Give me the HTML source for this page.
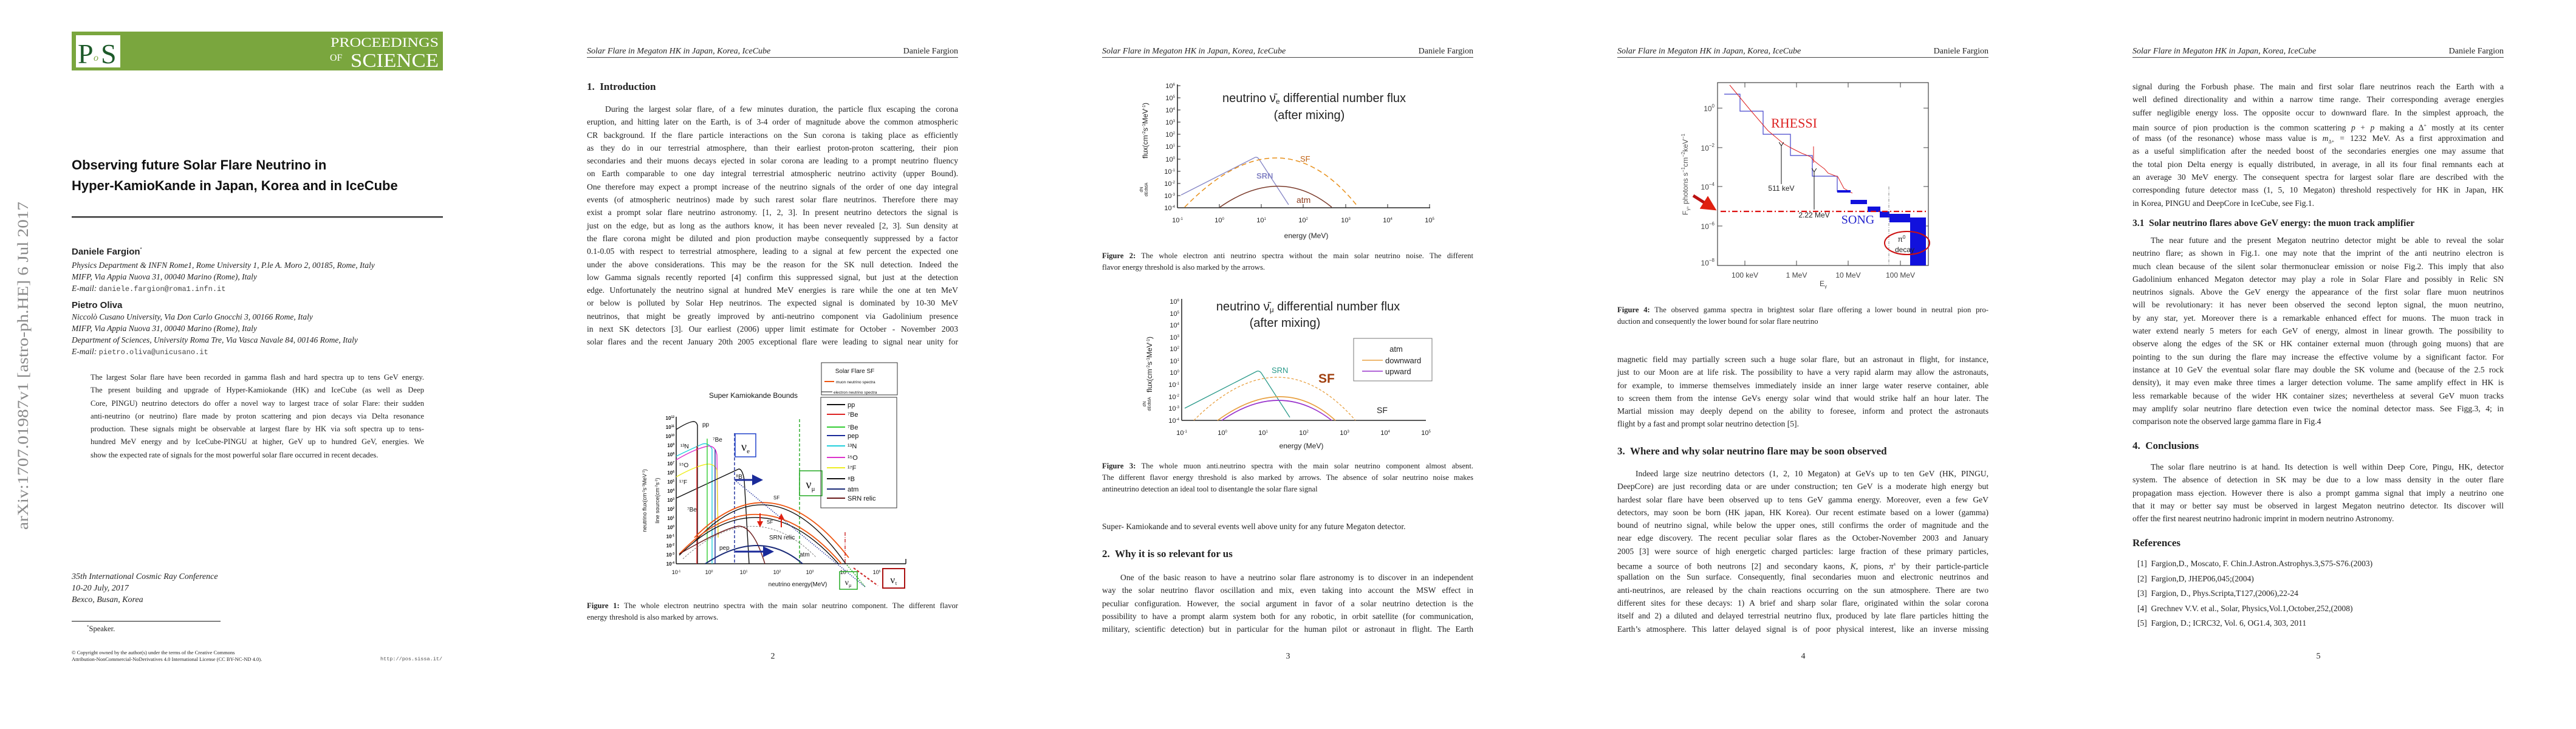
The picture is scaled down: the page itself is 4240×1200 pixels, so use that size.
<!DOCTYPE html>
<html><head><meta charset="utf-8">
<style>
html,body{margin:0;padding:0;background:#fff;}
body{width:4240px;height:1200px;position:relative;overflow:hidden;font-family:"Liberation Serif",serif;color:#222;}
.a{position:absolute;white-space:nowrap;}
.blk{position:absolute;width:611px;font-size:13.6px;}
.ln{height:21.3px;line-height:21.3px;white-space:nowrap;text-align:justify;text-align-last:justify;}
.ln.l{text-align-last:left;}
.ln.i{text-indent:30px;}
.cap{position:absolute;width:611px;font-size:12.6px;}
.cap .ln{height:19px;line-height:19px;}
.hdr{position:absolute;top:76px;width:611px;height:18px;line-height:18px;font-size:14px;border-bottom:1.6px solid #444;}
.hdr i{float:left}.hdr span{float:right}
.h{position:absolute;font-weight:bold;font-size:17px;height:22px;line-height:22px;white-space:nowrap;}
.pn{position:absolute;top:1073px;width:20px;text-align:center;font-size:14px;}
</style></head><body>

<svg class="a" style="left:0;top:0" width="4240" height="1200" xmlns="http://www.w3.org/2000/svg" font-family="Liberation Sans, sans-serif">
<defs>
<marker id="ab" markerWidth="6" markerHeight="6" refX="4" refY="3" orient="auto"><path d="M0,0L6,3L0,6z" fill="#1a2a99"/></marker>
<marker id="ar" markerWidth="5" markerHeight="5" refX="3" refY="2.5" orient="auto"><path d="M0,0L5,2.5L0,5z" fill="#e02010"/></marker>
<marker id="ak" markerWidth="8" markerHeight="8" refX="1" refY="4" orient="auto"><path d="M7,0L1,4L7,8" fill="none" stroke="#111"/></marker>
</defs>
<!-- PAGE 1 -->
<rect x="118" y="52" width="611" height="64" fill="#7aa63e"/>
<rect x="125" y="58" width="73" height="53" fill="#fff"/>
<text x="128" y="104" font-family="Liberation Serif, serif" font-size="46" fill="#1d5a2a">P</text>
<text x="154" y="100" font-family="Liberation Serif, serif" font-size="16" fill="#7aa63e" font-style="italic">o</text>
<text x="166" y="104" font-family="Liberation Serif, serif" font-size="46" fill="#1d5a2a">S</text>
<text x="722" y="77" text-anchor="end" font-family="Liberation Serif, serif" font-size="22" fill="#fff" textLength="178" lengthAdjust="spacingAndGlyphs">PROCEEDINGS</text>
<text x="543" y="100" font-family="Liberation Serif, serif" font-size="16" fill="#fff">OF</text>
<text x="722" y="110" text-anchor="end" font-family="Liberation Serif, serif" font-size="32" fill="#fff" textLength="145" lengthAdjust="spacingAndGlyphs">SCIENCE</text>
<rect x="118" y="356" width="611" height="2.4" fill="#333"/>
<text transform="translate(46,872) rotate(-90)" font-family="Liberation Serif, serif" font-size="25" fill="#8a8a8a" textLength="540" lengthAdjust="spacingAndGlyphs">arXiv:1707.01987v1  [astro-ph.HE]  6 Jul 2017</text>
<rect x="118" y="1022" width="245" height="1.2" fill="#333"/>

<!-- FIGURE 1 (page 2) -->
<g font-size="9" fill="#111">
<text x="1240" y="655" text-anchor="middle" font-size="12">Super Kamiokande Bounds</text>
<line x1="1113" y1="686" x2="1113" y2="928" stroke="#111" stroke-width="1.5"/>
<line x1="1113" y1="928" x2="1491" y2="928" stroke="#111" stroke-width="1.5"/>
<g text-anchor="end" font-size="8" font-weight="bold">
<text x="1110" y="691">10<tspan dy="-3" font-size="5">12</tspan></text>
<text x="1110" y="706">10<tspan dy="-3" font-size="5">11</tspan></text>
<text x="1110" y="721">10<tspan dy="-3" font-size="5">10</tspan></text>
<text x="1110" y="736">10<tspan dy="-3" font-size="5">9</tspan></text>
<text x="1110" y="751">10<tspan dy="-3" font-size="5">8</tspan></text>
<text x="1110" y="766">10<tspan dy="-3" font-size="5">7</tspan></text>
<text x="1110" y="781">10<tspan dy="-3" font-size="5">6</tspan></text>
<text x="1110" y="796">10<tspan dy="-3" font-size="5">5</tspan></text>
<text x="1110" y="811">10<tspan dy="-3" font-size="5">4</tspan></text>
<text x="1110" y="826">10<tspan dy="-3" font-size="5">3</tspan></text>
<text x="1110" y="841">10<tspan dy="-3" font-size="5">2</tspan></text>
<text x="1110" y="856">10<tspan dy="-3" font-size="5">1</tspan></text>
<text x="1110" y="871">10<tspan dy="-3" font-size="5">0</tspan></text>
<text x="1110" y="886">10<tspan dy="-3" font-size="5">-1</tspan></text>
<text x="1110" y="901">10<tspan dy="-3" font-size="5">-2</tspan></text>
<text x="1110" y="916">10<tspan dy="-3" font-size="5">-3</tspan></text>
<text x="1110" y="931">10<tspan dy="-3" font-size="5">-4</tspan></text>
</g>
<g text-anchor="middle" font-size="9">
<text x="1113" y="945">10<tspan dy="-3" font-size="5">-1</tspan></text>
<text x="1167" y="945">10<tspan dy="-3" font-size="5">0</tspan></text>
<text x="1224" y="945">10<tspan dy="-3" font-size="5">1</tspan></text>
<text x="1279" y="945">10<tspan dy="-3" font-size="5">2</tspan></text>
<text x="1333" y="945">10<tspan dy="-3" font-size="5">3</tspan></text>
<text x="1389" y="945">10<tspan dy="-3" font-size="5">4</tspan></text>
<text x="1443" y="945">10<tspan dy="-3" font-size="5">5</tspan></text>
</g>
<text x="1313" y="965" text-anchor="middle" font-size="10">neutrino energy(MeV)</text>
<text transform="translate(1064,824) rotate(-90)" text-anchor="middle" font-size="9">neutrino flux(cm<tspan dy="-3" font-size="5">-2</tspan><tspan dy="3">s</tspan><tspan dy="-3" font-size="5">-1</tspan><tspan dy="3">MeV</tspan><tspan dy="-3" font-size="5">-1</tspan><tspan dy="3">)</tspan></text>
<text transform="translate(1085,824) rotate(-90)" text-anchor="middle" font-size="9">line source(cm<tspan dy="-3" font-size="5">-2</tspan><tspan dy="3">s</tspan><tspan dy="-3" font-size="5">-1</tspan><tspan dy="3">)</tspan></text>
<g fill="none" stroke-width="1.4">
<path d="M1113,707 Q1130,696 1140,694 Q1146,693 1148,700 L1148,928" stroke="#111"/>
<path d="M1113,751 Q1140,738 1156,731 Q1166,728 1172,739 L1172,928" stroke="#22d0dd"/>
<path d="M1113,757 Q1145,738 1167,734 Q1178,735 1180,749 L1182,884" stroke="#dd33cc"/>
<path d="M1113,785 Q1145,767 1164,764 Q1176,763 1180,774 L1182,885" stroke="#eeee22"/>
<path d="M1113,820 L1216,772 Q1222,772 1225,790 L1233,928" stroke="#111"/>
<line x1="1147" y1="734" x2="1147" y2="928" stroke="#dd2222"/>
<line x1="1164" y1="722" x2="1164" y2="928" stroke="#33cc33"/>
<line x1="1177" y1="740" x2="1177" y2="928" stroke="#1a2a99"/>
<line x1="1209" y1="713" x2="1209" y2="928" stroke="#1a2a99" stroke-dasharray="5,3"/>
<line x1="1316" y1="690" x2="1316" y2="928" stroke="#22aa22" stroke-dasharray="5,3"/>
<path d="M1143,885 Q1270,755 1397,918" stroke="#ee5511" stroke-width="1.8"/>
<path d="M1143,892 Q1270,754 1392,928" stroke="#111"/>
<path d="M1118,912 Q1251,774 1385,928" stroke="#ee5511" stroke-width="1.8"/>
<path d="M1118,914 Q1251,783 1380,928" stroke="#111"/>
<path d="M1209,790 L1424,966" stroke="#1a2a99" stroke-dasharray="1.5,2"/>
<path d="M1118,912 Q1190,870 1216,866 Q1240,866 1259,928" stroke="#6a1a1a"/>
<path d="M1124,920 Q1240,814 1343,917" stroke="#666" stroke-width="0.8" stroke-dasharray="3,2"/>
<path d="M1161,928 Q1251,868 1321,928" stroke="#1a2a77" stroke-width="2"/>
<line x1="1391" y1="876" x2="1391" y2="928" stroke="#cc2222" stroke-dasharray="6,2,1,2"/>
<line x1="1394" y1="930" x2="1424" y2="966" stroke="#22aa22" stroke-dasharray="2,2"/>
<line x1="1405" y1="935" x2="1445" y2="964" stroke="#cc2222" stroke-width="2" stroke-dasharray="4,3"/>
<line x1="1210" y1="790" x2="1250" y2="790" stroke="#1a2a99" stroke-width="3" marker-end="url(#ab)"/>
<line x1="1210" y1="908" x2="1268" y2="908" stroke="#1a2a99" stroke-width="3" marker-end="url(#ab)"/>
<line x1="1251" y1="845" x2="1251" y2="864" stroke="#e02010" stroke-width="2" marker-end="url(#ar)"/>
<line x1="1286" y1="868" x2="1286" y2="849" stroke="#e02010" stroke-width="2" marker-end="url(#ar)"/>
<rect x="1210" y="714" width="34" height="38" stroke="#2244cc" stroke-width="1.5"/>
<rect x="1316" y="775" width="37" height="41" stroke="#22aa22" stroke-width="1.5"/>
<rect x="1382" y="941" width="29" height="29" stroke="#22aa22" stroke-width="1.5"/>
<rect x="1453" y="936" width="36" height="32" stroke="#aa1111" stroke-width="2"/>
<line x1="1491" y1="928" x2="1491" y2="920" stroke="#111"/>
</g>
<g font-family="Liberation Serif, serif">
<text x="1227" y="742" text-anchor="middle" font-size="20">ν<tspan font-size="11" dy="4">e</tspan></text>
<text x="1334" y="804" text-anchor="middle" font-size="20">ν<tspan font-size="11" dy="4">μ</tspan></text>
<text x="1396" y="963" text-anchor="middle" font-size="14">ν<tspan font-size="8" dy="3">μ</tspan></text>
<text x="1471" y="960" text-anchor="middle" font-size="17">ν<tspan font-size="9" dy="3">τ</tspan></text>
</g>
<g font-size="10">
<text x="1156" y="702">pp</text><text x="1173" y="727">⁷Be</text><text x="1120" y="738">¹³N</text>
<text x="1118" y="769">¹⁵O</text><text x="1118" y="797">¹⁷F</text><text x="1131" y="842">⁷Be</text>
<text x="1211" y="788">⁸B</text><text x="1273" y="822" font-size="8">SF</text><text x="1262" y="862" font-size="8">SF</text>
<text x="1266" y="888">SRN relic</text><text x="1184" y="905">pep</text><text x="1316" y="916">atm</text>
</g>
<rect x="1352" y="597" width="125" height="53" fill="none" stroke="#333"/>
<text x="1407" y="614" text-anchor="middle" font-size="10">Solar Flare  SF</text>
<line x1="1357" y1="628" x2="1373" y2="628" stroke="#ee5511" stroke-width="2"/>
<text x="1376" y="631" font-size="6.5">muon neutrino spectra</text>
<line x1="1352" y1="645" x2="1370" y2="645" stroke="#111"/>
<text x="1372" y="648" font-size="6.5">electron neutrino spectra</text>
<rect x="1351" y="654" width="125" height="182" fill="none" stroke="#333"/>
<g stroke-width="2">
<line x1="1361" y1="666" x2="1391" y2="666" stroke="#111"/>
<line x1="1361" y1="682" x2="1391" y2="682" stroke="#dd2222"/>
<line x1="1361" y1="703" x2="1391" y2="703" stroke="#33cc33"/>
<line x1="1361" y1="717" x2="1391" y2="717" stroke="#1a2a99"/>
<line x1="1361" y1="734" x2="1391" y2="734" stroke="#22d0dd"/>
<line x1="1361" y1="753" x2="1391" y2="753" stroke="#dd33cc"/>
<line x1="1361" y1="770" x2="1391" y2="770" stroke="#eeee22"/>
<line x1="1361" y1="788" x2="1391" y2="788" stroke="#111"/>
<line x1="1361" y1="805" x2="1391" y2="805" stroke="#1a2a77"/>
<line x1="1361" y1="820" x2="1391" y2="820" stroke="#6a1a1a"/>
</g>
<g font-size="11">
<text x="1395" y="670">pp</text><text x="1395" y="686">⁷Be</text><text x="1395" y="707">⁷Be</text>
<text x="1395" y="721">pep</text><text x="1395" y="738">¹³N</text><text x="1395" y="757">¹⁵O</text>
<text x="1395" y="774">¹⁷F</text><text x="1395" y="792">⁸B</text><text x="1395" y="809">atm</text>
<text x="1395" y="824">SRN relic</text>
</g>
</g>

<!-- FIGURE 2 (page 3) -->
<g font-size="10" fill="#222">
<line x1="1938" y1="139" x2="1938" y2="342" stroke="#222" stroke-width="1.5"/>
<line x1="1938" y1="342" x2="2354" y2="342" stroke="#222" stroke-width="1.5"/>
<g stroke="#222">
<line x1="1938" y1="141" x2="1943" y2="141"/><line x1="1938" y1="161" x2="1943" y2="161"/><line x1="1938" y1="181" x2="1943" y2="181"/><line x1="1938" y1="201" x2="1943" y2="201"/><line x1="1938" y1="221" x2="1943" y2="221"/><line x1="1938" y1="241" x2="1943" y2="241"/><line x1="1938" y1="262" x2="1943" y2="262"/><line x1="1938" y1="282" x2="1943" y2="282"/><line x1="1938" y1="302" x2="1943" y2="302"/><line x1="1938" y1="322" x2="1943" y2="322"/>
<line x1="2007" y1="342" x2="2007" y2="336"/><line x1="2076" y1="342" x2="2076" y2="336"/><line x1="2145" y1="342" x2="2145" y2="336"/><line x1="2215" y1="342" x2="2215" y2="336"/><line x1="2284" y1="342" x2="2284" y2="336"/><line x1="2353" y1="342" x2="2353" y2="336"/>
</g>
<g text-anchor="end" font-size="11">
<text x="1934" y="145">10<tspan dy="-4" font-size="6">6</tspan></text>
<text x="1934" y="165">10<tspan dy="-4" font-size="6">5</tspan></text>
<text x="1934" y="185">10<tspan dy="-4" font-size="6">4</tspan></text>
<text x="1934" y="205">10<tspan dy="-4" font-size="6">3</tspan></text>
<text x="1934" y="225">10<tspan dy="-4" font-size="6">2</tspan></text>
<text x="1934" y="245">10<tspan dy="-4" font-size="6">1</tspan></text>
<text x="1934" y="266">10<tspan dy="-4" font-size="6">0</tspan></text>
<text x="1934" y="286">10<tspan dy="-4" font-size="6">-1</tspan></text>
<text x="1934" y="306">10<tspan dy="-4" font-size="6">-2</tspan></text>
<text x="1934" y="326">10<tspan dy="-4" font-size="6">-3</tspan></text>
<text x="1934" y="346">10<tspan dy="-4" font-size="6">-4</tspan></text>
</g>
<g text-anchor="middle" font-size="11">
<text x="1938" y="366">10<tspan dy="-4" font-size="6">-1</tspan></text><text x="2007" y="366">10<tspan dy="-4" font-size="6">0</tspan></text>
<text x="2076" y="366">10<tspan dy="-4" font-size="6">1</tspan></text><text x="2145" y="366">10<tspan dy="-4" font-size="6">2</tspan></text>
<text x="2215" y="366">10<tspan dy="-4" font-size="6">3</tspan></text><text x="2284" y="366">10<tspan dy="-4" font-size="6">4</tspan></text>
<text x="2353" y="366">10<tspan dy="-4" font-size="6">5</tspan></text>
</g>
<text x="2150" y="392" text-anchor="middle" font-size="12">energy (MeV)</text>
<text x="2163" y="168" text-anchor="middle" font-size="20">neutrino ν̄<tspan font-size="12" dy="3">e</tspan><tspan dy="-3"> differential number flux</tspan></text>
<text x="2155" y="196" text-anchor="middle" font-size="20">(after mixing)</text>
<text transform="translate(1889,215) rotate(-90)" text-anchor="middle" font-size="12">flux(cm<tspan dy="-4" font-size="7">-2</tspan><tspan dy="4">s</tspan><tspan dy="-4" font-size="7">-1</tspan><tspan dy="4">MeV</tspan><tspan dy="-4" font-size="7">-1</tspan><tspan dy="4">)</tspan></text>
<text transform="translate(1881,312) rotate(-90)" text-anchor="middle" font-size="7">dN</text>
<text transform="translate(1889,312) rotate(-90)" text-anchor="middle" font-size="7">dEdtdA</text>
<path d="M1944,321 L2066,259 Q2070,258 2073,263 L2121,337" fill="none" stroke="#8585c5" stroke-width="1.3"/>
<path d="M1950,341 Q2107,180 2234,339" fill="none" stroke="#e8901a" stroke-width="1.5" stroke-dasharray="8,5"/>
<path d="M2008,341 Q2107,272 2192,341" fill="none" stroke="#7a3a2a" stroke-width="1.5"/>
<text x="2140" y="266" font-size="13" fill="#c06010">SF</text>
<text x="2068" y="294" font-size="13" fill="#8585c5" font-weight="bold">SRN</text>
<text x="2134" y="334" font-size="14" fill="#8a3a1a">atm</text>
</g>

<!-- FIGURE 3 (page 3) -->
<g font-size="10" fill="#222">
<line x1="1945" y1="492" x2="1945" y2="692" stroke="#222" stroke-width="1.5"/>
<line x1="1945" y1="692" x2="2347" y2="692" stroke="#222" stroke-width="1.5"/>
<g text-anchor="end" font-size="11">
<text x="1941" y="500">10<tspan dy="-4" font-size="6">6</tspan></text>
<text x="1941" y="520">10<tspan dy="-4" font-size="6">5</tspan></text>
<text x="1941" y="539">10<tspan dy="-4" font-size="6">4</tspan></text>
<text x="1941" y="559">10<tspan dy="-4" font-size="6">3</tspan></text>
<text x="1941" y="578">10<tspan dy="-4" font-size="6">2</tspan></text>
<text x="1941" y="598">10<tspan dy="-4" font-size="6">1</tspan></text>
<text x="1941" y="617">10<tspan dy="-4" font-size="6">0</tspan></text>
<text x="1941" y="637">10<tspan dy="-4" font-size="6">-1</tspan></text>
<text x="1941" y="657">10<tspan dy="-4" font-size="6">-2</tspan></text>
<text x="1941" y="676">10<tspan dy="-4" font-size="6">-3</tspan></text>
<text x="1941" y="696">10<tspan dy="-4" font-size="6">-4</tspan></text>
</g>
<g text-anchor="middle" font-size="11">
<text x="1945" y="716">10<tspan dy="-4" font-size="6">-1</tspan></text><text x="2012" y="716">10<tspan dy="-4" font-size="6">0</tspan></text>
<text x="2079" y="716">10<tspan dy="-4" font-size="6">1</tspan></text><text x="2146" y="716">10<tspan dy="-4" font-size="6">2</tspan></text>
<text x="2213" y="716">10<tspan dy="-4" font-size="6">3</tspan></text><text x="2280" y="716">10<tspan dy="-4" font-size="6">4</tspan></text>
<text x="2347" y="716">10<tspan dy="-4" font-size="6">5</tspan></text>
</g>
<text x="2142" y="738" text-anchor="middle" font-size="12">energy (MeV)</text>
<text x="2153" y="511" text-anchor="middle" font-size="20">neutrino ν̄<tspan font-size="12" dy="3">μ</tspan><tspan dy="-3"> differential number flux</tspan></text>
<text x="2115" y="538" text-anchor="middle" font-size="20">(after mixing)</text>
<text transform="translate(1896,600) rotate(-90)" text-anchor="middle" font-size="12">flux(cm<tspan dy="-4" font-size="7">-2</tspan><tspan dy="4">s</tspan><tspan dy="-4" font-size="7">-1</tspan><tspan dy="4">MeV</tspan><tspan dy="-4" font-size="7">-1</tspan><tspan dy="4">)</tspan></text>
<text transform="translate(1886,665) rotate(-90)" text-anchor="middle" font-size="7">dN</text>
<text transform="translate(1894,665) rotate(-90)" text-anchor="middle" font-size="7">dEdtdA</text>
<path d="M1950,672 L2069,611 Q2073,610 2076,614 L2123,687" fill="none" stroke="#2a9a8a" stroke-width="1.3"/>
<path d="M1965,692 Q2107,550 2231,692" fill="none" stroke="#e8a040" stroke-width="1.3" stroke-dasharray="4,3"/>
<path d="M2004,692 Q2112,614 2198,692" fill="none" stroke="#e8a040" stroke-width="1.6"/>
<path d="M2011,692 Q2107,626 2192,692" fill="none" stroke="#9933cc" stroke-width="1.6"/>
<text x="2093" y="614" font-size="13" fill="#2a9a8a">SRN</text>
<text x="2170" y="630" font-size="21" fill="#a04010" font-weight="bold">SF</text>
<text x="2266" y="680" font-size="14">SF</text>
<rect x="2228" y="557" width="129" height="70" fill="none" stroke="#777"/>
<text x="2298" y="579" text-anchor="middle" font-size="13">atm</text>
<line x1="2242" y1="593" x2="2276" y2="593" stroke="#e8a040" stroke-width="1.6"/>
<text x="2280" y="598" font-size="13">downward</text>
<line x1="2242" y1="611" x2="2276" y2="611" stroke="#9933cc" stroke-width="1.6"/>
<text x="2280" y="616" font-size="13">upward</text>
</g>

<!-- FIGURE 4 (page 4) -->
<g font-size="11" fill="#222">
<rect x="2827" y="136" width="347" height="301" fill="none" stroke="#444" stroke-width="1.2"/>
<g stroke="#444">
<line x1="2827" y1="178" x2="2835" y2="178"/><line x1="2827" y1="243" x2="2835" y2="243"/><line x1="2827" y1="307" x2="2835" y2="307"/><line x1="2827" y1="372" x2="2835" y2="372"/>
<line x1="3174" y1="178" x2="3166" y2="178"/><line x1="3174" y1="243" x2="3166" y2="243"/><line x1="3174" y1="307" x2="3166" y2="307"/><line x1="3174" y1="372" x2="3166" y2="372"/>
<line x1="2872" y1="437" x2="2872" y2="429"/><line x1="2957" y1="437" x2="2957" y2="429"/><line x1="3042" y1="437" x2="3042" y2="429"/><line x1="3128" y1="437" x2="3128" y2="429"/>
<line x1="2872" y1="136" x2="2872" y2="144"/><line x1="2957" y1="136" x2="2957" y2="144"/><line x1="3042" y1="136" x2="3042" y2="144"/><line x1="3128" y1="136" x2="3128" y2="144"/>
</g>
<g text-anchor="end" font-size="12" fill="#444">
<text x="2822" y="183">10<tspan dy="-6" font-size="8">0</tspan></text>
<text x="2822" y="248">10<tspan dy="-6" font-size="8">−2</tspan></text>
<text x="2822" y="312">10<tspan dy="-6" font-size="8">−4</tspan></text>
<text x="2822" y="377">10<tspan dy="-6" font-size="8">−6</tspan></text>
<text x="2822" y="437">10<tspan dy="-6" font-size="8">−8</tspan></text>
</g>
<g text-anchor="middle" font-size="12" fill="#444">
<text x="2872" y="457">100 keV</text><text x="2957" y="457">1 MeV</text><text x="3042" y="457">10 MeV</text><text x="3128" y="457">100 MeV</text>
</g>
<text x="3001" y="471" text-anchor="middle" font-size="12" fill="#444">E<tspan font-size="8" dy="3">γ</tspan></text>
<text transform="translate(2778,287) rotate(-90)" text-anchor="middle" font-size="12" fill="#555">F<tspan font-size="8" dy="3">γ</tspan><tspan dy="-3">, photons s</tspan><tspan dy="-5" font-size="8">−1</tspan><tspan dy="5">cm</tspan><tspan dy="-5" font-size="8">−2</tspan><tspan dy="5">keV</tspan><tspan dy="-5" font-size="8">−1</tspan></text>
<path d="M2838,155 H2864 V183 H2902 V221 H2947 V256 H2983 V290 H3024 V315 H3046" fill="none" stroke="#4444cc" stroke-width="1.2"/>
<path d="M2847,140 L2880,180 L2910,215 L2935,236 L2947,243 L2965,252 L2980,258 L2985,264 L2995,272 L3003,278 L3009,285 L3025,291 L3035,310 L3049,318" fill="none" stroke="#dd2222" stroke-width="1"/>
<line x1="2985" y1="241" x2="2985" y2="268" stroke="#dd2222"/>
<rect x="3024" y="313" width="22" height="4" fill="#1111dd"/>
<rect x="3046" y="329" width="27" height="7" fill="#1111dd"/>
<rect x="3074" y="340" width="21" height="9" fill="#1111dd"/>
<rect x="3094" y="348" width="16" height="10" fill="#1111dd"/>
<rect x="3110" y="352" width="34" height="14" fill="#1111dd"/>
<rect x="3144" y="358" width="26" height="79" fill="#1111dd"/>
<line x1="2832" y1="348" x2="3170" y2="348" stroke="#dd1111" stroke-width="2.2" stroke-dasharray="9,4,2,4"/>
<line x1="3109" y1="307" x2="3109" y2="437" stroke="#666" stroke-width="0.8" stroke-dasharray="5,2,1,2"/>
<line x1="2787" y1="322" x2="2817" y2="341" stroke="#bb1111" stroke-width="5" marker-end="url(#ar)"/>
<ellipse cx="3139" cy="400" rx="37" ry="19" fill="none" stroke="#cc1111" stroke-width="2"/>
<line x1="2932" y1="303" x2="2932" y2="240" stroke="#111" marker-end="url(#ak)"/>
<line x1="2986" y1="345" x2="2986" y2="283" stroke="#111" marker-end="url(#ak)"/>
<text x="2953" y="210" text-anchor="middle" font-family="Liberation Serif, serif" font-size="22" fill="#dd2222">RHESSI</text>
<text x="3058" y="368" text-anchor="middle" font-family="Liberation Serif, serif" font-size="20" fill="#2222cc">SONG</text>
<text x="2932" y="314" text-anchor="middle" font-size="12">511 keV</text>
<text x="2986" y="358" text-anchor="middle" font-size="12">2.22 MeV</text>
<text x="3130" y="398" text-anchor="middle" font-size="12">π<tspan dy="-5" font-size="8">0</tspan></text>
<text x="3135" y="415" text-anchor="middle" font-size="12">decay</text>
</g>
</svg>

<!-- PAGE 1 TEXT -->
<div class="a" style="left:118px;top:255px;font-family:'Liberation Sans',sans-serif;font-weight:bold;font-size:22px;line-height:34px;color:#111;">Observing future Solar Flare Neutrino in<br>Hyper-KamioKande in Japan, Korea and in IceCube</div>
<div class="a" style="left:118px;top:406px;font-family:'Liberation Sans',sans-serif;font-weight:bold;font-size:15px;">Daniele Fargion<sup style="font-size:8px;font-weight:normal">*</sup></div>
<div class="a" style="left:118px;top:427px;font-size:13.5px;line-height:19.2px;"><i>Physics Department &amp; INFN Rome1, Rome University 1, P.le A. Moro 2, 00185, Rome, Italy</i><br><i>MIFP, Via Appia Nuova 31, 00040 Marino (Rome), Italy</i><br><i>E-mail:</i> <span style="font-family:'Liberation Mono',monospace;font-size:12px;color:#444">daniele.fargion@roma1.infn.it</span></div>
<div class="a" style="left:118px;top:494px;font-family:'Liberation Sans',sans-serif;font-weight:bold;font-size:15px;">Pietro Oliva</div>
<div class="a" style="left:118px;top:513px;font-size:13.5px;line-height:18.9px;"><i>Niccolò Cusano University, Via Don Carlo Gnocchi 3, 00166 Rome, Italy</i><br><i>MIFP, Via Appia Nuova 31, 00040 Marino (Rome), Italy</i><br><i>Department of Sciences, University Roma Tre, Via Vasca Navale 84, 00146 Rome, Italy</i><br><i>E-mail:</i> <span style="font-family:'Liberation Mono',monospace;font-size:12px;color:#444">pietro.oliva@unicusano.it</span></div>
<div class="blk" style="left:149px;top:611px;width:549px;font-size:12.6px;">
<div class="ln">The largest Solar flare have been recorded in gamma flash and hard spectra up to tens GeV energy.</div>
<div class="ln">The present building and upgrade of Hyper-Kamiokande (HK) and IceCube (as well as Deep</div>
<div class="ln">Core, PINGU) neutrino detectors do offer a novel way to largest trace of solar Flare: their sudden</div>
<div class="ln">anti-neutrino (or neutrino) flare made by proton scattering and pion decays via Delta resonance</div>
<div class="ln">production. These signals might be observable at largest flare by HK via soft spectra up to tens-</div>
<div class="ln">hundred MeV energy and by IceCube-PINGU at higher, GeV up to hundred GeV, energies. We</div>
<div class="ln l">show the expected rate of signals for the most powerful solar flare occurred in recent decades.</div>
</div>
<div class="a" style="left:118px;top:940px;font-size:14px;line-height:19px;font-style:italic;">35th International Cosmic Ray Conference<br>10-20 July, 2017<br>Bexco, Busan, Korea</div>
<div class="a" style="left:143px;top:1028px;font-size:12.5px;"><sup style="font-size:7px">*</sup>Speaker.</div>
<div class="a" style="left:118px;top:1069px;font-size:8.5px;line-height:10.5px;">© Copyright owned by the author(s) under the terms of the Creative Commons<br>Attribution-NonCommercial-NoDerivatives 4.0 International License (CC BY-NC-ND 4.0).</div>
<div class="a" style="left:626px;top:1080px;font-family:'Liberation Mono',monospace;font-size:8.5px;color:#555;">http://pos.sissa.it/</div>

<!-- PAGE 2 -->
<div class="hdr" style="left:966px;"><i>Solar Flare in Megaton HK in Japan, Korea, IceCube</i><span>Daniele Fargion</span></div>
<div class="h" style="left:966px;top:132px;">1.&nbsp; Introduction</div>
<div class="blk" style="left:966px;top:169px;">
<div class="ln i">During the largest solar flare, of a few minutes duration, the particle flux escaping the corona</div>
<div class="ln">eruption, and hitting later on the Earth, is of 3-4 order of magnitude above the common atmospheric</div>
<div class="ln">CR background. If the flare particle interactions on the Sun corona is taking place as efficiently</div>
<div class="ln">as they do in our terrestrial atmosphere, than their earliest proton-proton scattering, their pion</div>
<div class="ln">secondaries and their muons decays ejected in solar corona are leading to a prompt neutrino fluency</div>
<div class="ln">on Earth comparable to one day integral terrestrial atmospheric neutrino activity (upper Bound).</div>
<div class="ln">One therefore may expect a prompt increase of the neutrino signals of the order of one day integral</div>
<div class="ln">events (of atmospheric neutrinos) made by such rarest solar flare neutrinos. Therefore there may</div>
<div class="ln">exist a prompt solar flare neutrino astronomy. [1, 2, 3]. In present neutrino detectors the signal is</div>
<div class="ln">just on the edge, but as long as the authors know, it has been never revealed [2, 3]. Sun density at</div>
<div class="ln">the flare corona might be diluted and pion production maybe consequently suppressed by a factor</div>
<div class="ln">0.1-0.05 with respect to terrestrial atmosphere, leading to a signal at few percent the expected one</div>
<div class="ln">under the above considerations. This may be the reason for the SK null detection. Indeed the</div>
<div class="ln">low Gamma signals recently reported [4] confirm this suppressed signal, but just at the detection</div>
<div class="ln">edge. Unfortunately the neutrino signal at hundred MeV energies is rare while the one at ten MeV</div>
<div class="ln">or below is polluted by Solar Hep neutrinos. The expected signal is dominated by 10-30 MeV</div>
<div class="ln">neutrinos, that might be greatly improved by anti-neutrino component via Gadolinium presence</div>
<div class="ln">in next SK detectors [3]. Our earliest (2006) upper limit estimate for October - November 2003</div>
<div class="ln">solar flares and the recent January 20th 2005 exceptional flare were leading to signal near unity for</div>
</div>
<div class="cap" style="left:966px;top:988px;">
<div class="ln"><b>Figure 1:</b> The whole electron neutrino spectra with the main solar neutrino component. The different flavor</div>
<div class="ln l">energy threshold is also marked by arrows.</div>
</div>
<div class="pn" style="left:1262px;">2</div>

<!-- PAGE 3 -->
<div class="hdr" style="left:1814px;"><i>Solar Flare in Megaton HK in Japan, Korea, IceCube</i><span>Daniele Fargion</span></div>
<div class="cap" style="left:1814px;top:412px;">
<div class="ln"><b>Figure 2:</b> The whole electron anti neutrino spectra without the main solar neutrino noise. The different</div>
<div class="ln l">flavor energy threshold is also marked by the arrows.</div>
</div>
<div class="cap" style="left:1814px;top:758px;">
<div class="ln"><b>Figure 3:</b> The whole muon anti.neutrino spectra with the main solar neutrino component almost absent.</div>
<div class="ln">The different flavor energy threshold is also marked by arrows. The absence of solar neutrino noise makes</div>
<div class="ln l">antineutrino detection an ideal tool to disentangle the solar flare signal</div>
</div>
<div class="blk" style="left:1814px;top:856px;"><div class="ln l">Super- Kamiokande and to several events well above unity for any future Megaton detector.</div></div>
<div class="h" style="left:1814px;top:901px;">2.&nbsp; Why it is so relevant for us</div>
<div class="blk" style="left:1814px;top:940px;">
<div class="ln i">One of the basic reason to have a neutrino solar flare astronomy is to discover in an independent</div>
<div class="ln">way the solar neutrino flavor oscillation and mix, even taking into account the MSW effect in</div>
<div class="ln">peculiar configuration. However, the social argument in favor of a solar neutrino detection is the</div>
<div class="ln">possibility to have a prompt alarm system both for any robotic, in orbit satellite (for communication,</div>
<div class="ln">military, scientific detection) but in particular for the human pilot or astronaut in flight. The Earth</div>
</div>
<div class="pn" style="left:2110px;">3</div>

<!-- PAGE 4 -->
<div class="hdr" style="left:2662px;"><i>Solar Flare in Megaton HK in Japan, Korea, IceCube</i><span>Daniele Fargion</span></div>
<div class="cap" style="left:2662px;top:501px;">
<div class="ln"><b>Figure 4:</b> The observed gamma spectra in brightest solar flare offering a lower bound in neutral pion pro-</div>
<div class="ln l">duction and consequently the lower bound for solar flare neutrino</div>
</div>
<div class="blk" style="left:2662px;top:581px;">
<div class="ln">magnetic field may partially screen such a huge solar flare, but an astronaut in flight, for instance,</div>
<div class="ln">just to our Moon are at life risk. The possibility to have a very rapid alarm may allow the astronauts,</div>
<div class="ln">for example, to immerse themselves immediately inside an inner large water reserve container, able</div>
<div class="ln">to screen them from the intense GeVs energy solar wind that would strike half an hour later. The</div>
<div class="ln">Martial mission may deeply depend on the ability to foresee, inform and protect the astronauts</div>
<div class="ln l">flight by a fast and prompt solar neutrino detection [5].</div>
</div>
<div class="h" style="left:2662px;top:732px;">3.&nbsp; Where and why solar neutrino flare may be soon observed</div>
<div class="blk" style="left:2662px;top:769px;">
<div class="ln i">Indeed large size neutrino detectors (1, 2, 10 Megaton) at GeVs up to ten GeV (HK, PINGU,</div>
<div class="ln">DeepCore) are just recording data or are under construction; ten GeV is a moderate high energy but</div>
<div class="ln">hardest solar flare have been observed up to tens GeV gamma energy. Moreover, even a few GeV</div>
<div class="ln">detectors, may soon be born (HK japan, HK Korea). Our recent estimate based on a lower (gamma)</div>
<div class="ln">bound of neutrino signal, while below the upper ones, still confirms the order of magnitude and the</div>
<div class="ln">near edge discovery. The recent peculiar solar flares as the October-November 2003 and January</div>
<div class="ln">2005 [3] were source of high energetic charged particles: large fraction of these primary particles,</div>
<div class="ln">became a source of both neutrons [2] and secondary kaons, <i>K</i>, pions, <i>π</i><sup style="font-size:8px">±</sup> by their particle-particle</div>
<div class="ln">spallation on the Sun surface. Consequently, final secondaries muon and electronic neutrinos and</div>
<div class="ln">anti-neutrinos, are released by the chain reactions occurring on the sun atmosphere. There are two</div>
<div class="ln">different sites for these decays: 1) A brief and sharp solar flare, originated within the solar corona</div>
<div class="ln">itself and 2) a diluted and delayed terrestrial neutrino flux, produced by late flare particles hitting the</div>
<div class="ln">Earth’s atmosphere. This latter delayed signal is of poor physical interest, like an inverse missing</div>
</div>
<div class="pn" style="left:2958px;">4</div>

<!-- PAGE 5 -->
<div class="hdr" style="left:3510px;"><i>Solar Flare in Megaton HK in Japan, Korea, IceCube</i><span>Daniele Fargion</span></div>
<div class="blk" style="left:3510px;top:132px;">
<div class="ln">signal during the Forbush phase. The main and first solar flare neutrinos reach the Earth with a</div>
<div class="ln">well defined directionality and within a narrow time range. Their corresponding average energies</div>
<div class="ln">suffer negligible energy loss. The opposite occur to downward flare. In the simplest approach, the</div>
<div class="ln">main source of pion production is the common scattering <i>p</i> + <i>p</i> making a Δ<sup style="font-size:8px">+</sup> mostly at its center</div>
<div class="ln">of mass (of the resonance) whose mass value is <i>m</i><sub style="font-size:8px">Δ+</sub> = 1232 MeV. As a first approximation and</div>
<div class="ln">as a useful simplification after the needed boost of the secondaries energies one may assume that</div>
<div class="ln">the total pion Delta energy is equally distributed, in average, in all its four final remnants each at</div>
<div class="ln">an average 30 MeV energy. The consequent spectra for largest solar flare are described with the</div>
<div class="ln">corresponding future detector mass (1, 5, 10 Megaton) threshold respectively for HK in Japan, HK</div>
<div class="ln l">in Korea, PINGU and DeepCore in IceCube, see Fig.1.</div>
</div>
<div class="h" style="left:3510px;top:357px;font-size:15.5px;">3.1&nbsp; Solar neutrino flares above GeV energy: the muon track amplifier</div>
<div class="blk" style="left:3510px;top:385px;">
<div class="ln i">The near future and the present Megaton neutrino detector might be able to reveal the solar</div>
<div class="ln">neutrino flare; as shown in Fig.1. one may note that the imprint of the anti neutrino electron is</div>
<div class="ln">much clean because of the silent solar thermonuclear emission or noise Fig.2. This imply that also</div>
<div class="ln">Gadolinium enhanced Megaton detector may play a role in Solar Flare and possibly in Relic SN</div>
<div class="ln">neutrinos signals. Above the GeV energy the appearance of the first solar flare muon neutrinos</div>
<div class="ln">will be revolutionary: it has never been observed the second lepton signal, the muon neutrino,</div>
<div class="ln">by any star, yet. Moreover there is a remarkable enhanced effect for muons. The muon track in</div>
<div class="ln">water extend nearly 5 meters for each GeV of energy, almost in linear growth. The possibility to</div>
<div class="ln">observe along the edges of the SK or HK container external muon (through going muons) that are</div>
<div class="ln">pointing to the sun during the flare may increase the effective volume by a significant factor. For</div>
<div class="ln">instance at 10 GeV the eventual solar flare may double the SK volume and (because of the 2.5 rock</div>
<div class="ln">density), it may even make three times a larger detection volume. The same amplify effect in HK is</div>
<div class="ln">less remarkable because of the wider HK container sizes; nevertheless at several GeV muon tracks</div>
<div class="ln">may amplify solar neutrino flare detection even twice the nominal detector mass. See Figg.3, 4; in</div>
<div class="ln l">comparison note the observed large gamma flare in Fig.4</div>
</div>
<div class="h" style="left:3510px;top:723px;">4.&nbsp; Conclusions</div>
<div class="blk" style="left:3510px;top:758px;">
<div class="ln i">The solar flare neutrino is at hand. Its detection is well within Deep Core, Pingu, HK, detector</div>
<div class="ln">system. The absence of detection in SK may be due to a low mass density in the outer flare</div>
<div class="ln">propagation mass ejection. However there is also a prompt gamma signal that imply a neutrino one</div>
<div class="ln">that it may or better say must be observed in largest Megaton neutrino detector. Its discover will</div>
<div class="ln l">offer the first nearest neutrino hadronic imprint in modern neutrino Astronomy.</div>
</div>
<div class="h" style="left:3510px;top:883px;">References</div>
<div class="a" style="left:3518px;top:916px;font-size:13.5px;line-height:24.5px;">[1]&nbsp; Fargion,D., Moscato, F. Chin.J.Astron.Astrophys.3,S75-S76.(2003)<br>[2]&nbsp; Fargion,D, JHEP06,045;(2004)<br>[3]&nbsp; Fargion, D., Phys.Scripta,T127,(2006),22-24<br>[4]&nbsp; Grechnev V.V. et al., Solar, Physics,Vol.1,October,252,(2008)<br>[5]&nbsp; Fargion, D.; ICRC32, Vol. 6, OG1.4, 303, 2011</div>
<div class="pn" style="left:3806px;">5</div>
</body></html>
